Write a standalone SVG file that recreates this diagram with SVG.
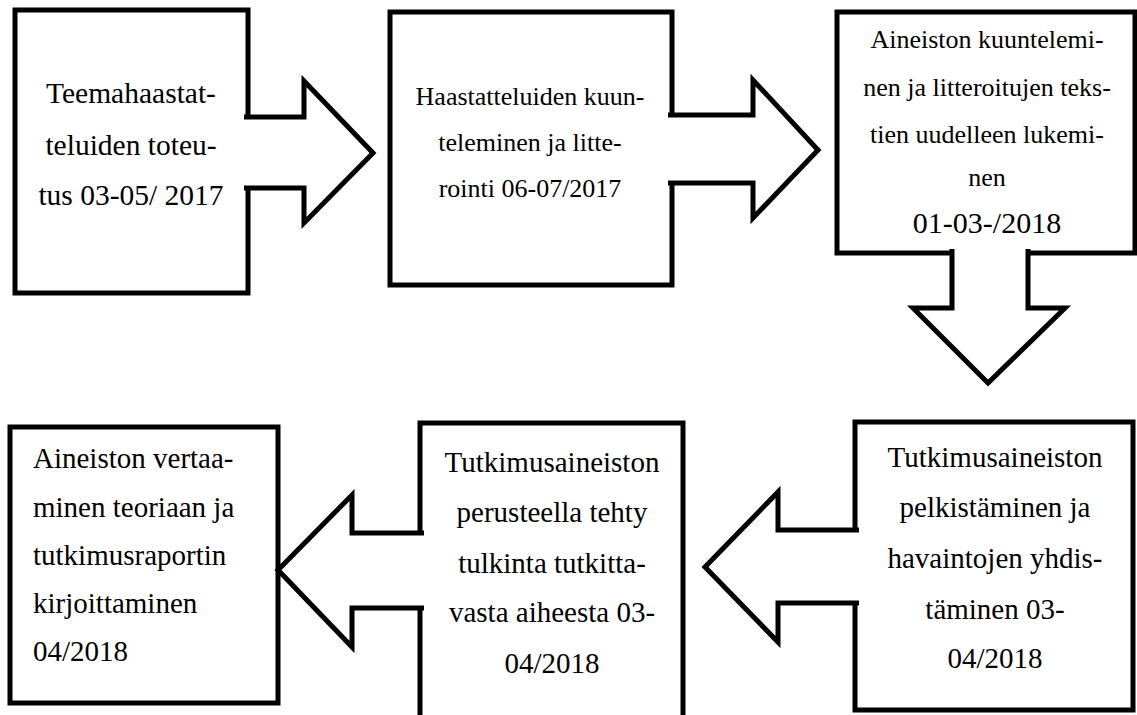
<svg xmlns="http://www.w3.org/2000/svg" width="1137" height="715" viewBox="0 0 1137 715">
<style>
.box{fill:#fff;stroke:#000;stroke-width:5;stroke-linejoin:miter}
.arr{fill:#fff;stroke:#000;stroke-width:5;stroke-linejoin:miter}
.c{text-anchor:middle}
</style>
<rect width="1137" height="715" fill="#fff"/>
<g id="node1">
<rect class="box" x="15" y="10" width="233" height="283"/>
<text class="c" font-family="Liberation Serif, serif" font-size="29.5"><tspan x="131" y="103">Teemahaastat-</tspan><tspan x="131" y="155">teluiden toteu-</tspan><tspan x="131" y="205">tus 03-05/ 2017</tspan></text>
</g>
<g id="node2">
<rect class="box" x="390" y="12" width="282" height="273"/>
<text class="c" font-family="Liberation Serif, serif" font-size="26"><tspan x="530" y="105">Haastatteluiden kuun-</tspan><tspan x="530" y="151">teleminen ja litte-</tspan><tspan x="530" y="197">rointi 06-07/2017</tspan></text>
</g>
<g id="node3">
<rect class="box" x="837" y="12" width="298" height="241"/>
<text class="c" font-family="Liberation Serif, serif" font-size="26"><tspan x="987" y="48">Aineiston kuuntelemi-</tspan><tspan x="987" y="96">nen ja litteroitujen teks-</tspan><tspan x="987" y="143">tien uudelleen lukemi-</tspan><tspan x="987" y="186">nen</tspan></text>
<text class="c" font-family="Liberation Serif, serif" font-size="30" x="987" y="233">01-03-/2018</text>
</g>
<g id="node4">
<rect class="box" x="10" y="427" width="268" height="276"/>
<text font-family="Liberation Serif, serif" font-size="29"><tspan x="33" y="468">Aineiston vertaa-</tspan><tspan x="33" y="517">minen teoriaan ja</tspan><tspan x="33" y="565">tutkimusraportin</tspan><tspan x="33" y="613">kirjoittaminen</tspan><tspan x="33" y="661">04/2018</tspan></text>
</g>
<g id="node5">
<rect class="box" x="420" y="423" width="263" height="310"/>
<text class="c" font-family="Liberation Serif, serif" font-size="29"><tspan x="552" y="472">Tutkimusaineiston</tspan><tspan x="552" y="522">perusteella tehty</tspan><tspan x="552" y="573">tulkinta tutkitta-</tspan><tspan x="552" y="622">vasta aiheesta 03-</tspan><tspan x="552" y="673">04/2018</tspan></text>
</g>
<g id="node6">
<rect class="box" x="855" y="422" width="278" height="288"/>
<text class="c" font-family="Liberation Serif, serif" font-size="29"><tspan x="995" y="467">Tutkimusaineiston</tspan><tspan x="995" y="517">pelkistäminen ja</tspan><tspan x="995" y="568">havaintojen yhdis-</tspan><tspan x="995" y="619">täminen 03-</tspan><tspan x="995" y="668">04/2018</tspan></text>
</g>
<g id="connectors">
<path class="arr" d="M244,117 L304,117 L304,81 L373,153 L304,223 L304,188 L244,188"/>
<path class="arr" d="M668,115 L753,115 L753,80 L818,150 L753,218 L753,183 L668,183"/>
<path class="arr" d="M952,249 L952,308 L913,308 L988,383 L1065,308 L1028,308 L1028,249"/>
<path class="arr" d="M859,530 L778,530 L778,492 L705,567 L778,642 L778,603 L859,603"/>
<path class="arr" d="M424,533 L352,533 L352,495 L278,570 L352,647 L352,608 L424,608"/>
</g>
</svg>
